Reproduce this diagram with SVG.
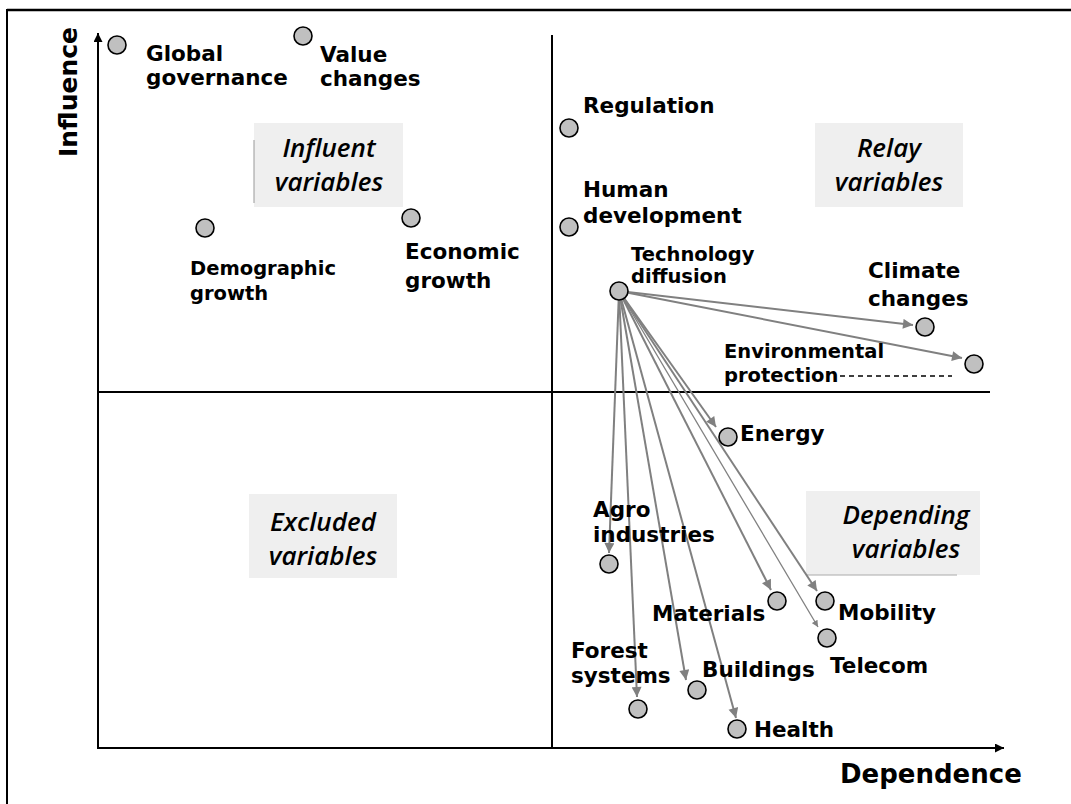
<svg xmlns="http://www.w3.org/2000/svg" width="1071" height="804" viewBox="0 0 1071 804">
<defs>
<marker id="ah" viewBox="0 0 10 10" refX="10" refY="5" markerWidth="6" markerHeight="5" orient="auto" markerUnits="strokeWidth">
<path d="M0,0 L10,5 L0,10 z" fill="#808080"/>
</marker>
<marker id="axh" viewBox="0 0 10 10" refX="10" refY="5" markerWidth="5" markerHeight="4.5" orient="auto" markerUnits="strokeWidth">
<path d="M0,0 L10,5 L0,10 z" fill="#000"/>
</marker>
</defs>
<style>
.n{fill:#c0c0c0;stroke:#000;stroke-width:1.6}
.t{font-family:"DejaVu Sans","Liberation Sans",sans-serif;font-weight:bold;font-size:21.5px;fill:#000}
.s{font-size:19.5px}
.q{font-family:"Open Sans","Liberation Sans",sans-serif;font-style:italic;font-weight:600;font-size:26px;fill:#000;text-anchor:middle}
.box{fill:#efefef}
.ax{stroke:#000;stroke-width:2;fill:none}
.c{stroke:#808080;stroke-width:2;fill:none;marker-end:url(#ah)}
</style>
<rect width="1071" height="804" fill="#fff"/>
<g id="frame">
<line x1="7" y1="10" x2="1071" y2="10" stroke="#000" stroke-width="2.5"/>
<line x1="7" y1="9" x2="7" y2="804" stroke="#000" stroke-width="2"/>
</g>
<g id="quadrants">
<rect class="box" x="254" y="123" width="149" height="84"/>
<line x1="254" y1="140" x2="254" y2="203" stroke="#999" stroke-width="1"/>
<text class="q" x="329" y="157">Influent</text>
<text class="q" x="329" y="191">variables</text>
<rect class="box" x="815" y="123" width="148" height="84"/>
<text class="q" x="889" y="157">Relay</text>
<text class="q" x="889" y="191">variables</text>
<rect class="box" x="249" y="494" width="148" height="84"/>
<text class="q" x="323" y="531">Excluded</text>
<text class="q" x="323" y="565">variables</text>
<rect class="box" x="806" y="491" width="174" height="84"/>
<line x1="806" y1="575" x2="957" y2="575" stroke="#aaa" stroke-width="1"/>
<text class="q" x="906" y="524">Depending</text>
<text class="q" x="906" y="558">variables</text>
</g>
<g id="axes">
<line class="ax" x1="98" y1="748" x2="98" y2="33" marker-end="url(#axh)"/>
<line class="ax" x1="97" y1="748" x2="1004" y2="748" marker-end="url(#axh)"/>
<line class="ax" x1="552" y1="35" x2="552" y2="749"/>
<line class="ax" x1="98" y1="392" x2="990" y2="392"/>
<text class="t" style="font-size:25px" transform="translate(77,92) rotate(-90)" text-anchor="middle">Influence</text>
<text class="t" style="font-size:26px" x="840" y="783">Dependence</text>
</g>
<g id="connectors">
<line class="c" x1="619" y1="291" x2="913" y2="325"/>
<line class="c" x1="619" y1="291" x2="962" y2="358"/>
<line class="c" x1="619" y1="291" x2="716" y2="427"/>
<line class="c" x1="619" y1="291" x2="609" y2="553"/>
<line class="c" x1="619" y1="291" x2="637" y2="697"/>
<line class="c" x1="619" y1="291" x2="686" y2="680"/>
<line class="c" x1="619" y1="291" x2="736" y2="718"/>
<line class="c" x1="619" y1="291" x2="771" y2="590"/>
<line class="c" x1="619" y1="291" x2="817" y2="591"/>
<line class="c" style="stroke-width:1.3" x1="619" y1="291" x2="818" y2="627"/>
</g>
<g id="global-governance"><circle class="n" cx="117" cy="45" r="9"/><text class="t" x="146" y="61">Global</text><text class="t" x="146" y="85">governance</text></g>
<g id="value-changes"><circle class="n" cx="303" cy="36" r="9"/><text class="t" x="320" y="62">Value</text><text class="t" x="320" y="86">changes</text></g>
<g id="regulation"><circle class="n" cx="569" cy="128" r="9"/><text class="t" x="583" y="113">Regulation</text></g>
<g id="human-development"><circle class="n" cx="569" cy="227" r="9"/><text class="t" x="583" y="197">Human</text><text class="t" x="583" y="223">development</text></g>
<g id="technology-diffusion"><circle class="n" cx="619" cy="291" r="9"/><text class="t s" x="631" y="261">Technology</text><text class="t s" x="631" y="283">diffusion</text></g>
<g id="demographic-growth"><circle class="n" cx="205" cy="228" r="9"/><text class="t s" x="190" y="275">Demographic</text><text class="t s" x="190" y="300">growth</text></g>
<g id="economic-growth"><circle class="n" cx="411" cy="218" r="9"/><text class="t" x="405" y="259">Economic</text><text class="t" x="405" y="288">growth</text></g>
<g id="climate-changes"><circle class="n" cx="925" cy="327" r="9"/><text class="t" x="868" y="278">Climate</text><text class="t" x="868" y="306">changes</text></g>
<g id="environmental-protection"><circle class="n" cx="974" cy="364" r="9"/><line x1="840" y1="376" x2="952" y2="376" stroke="#000" stroke-width="1.5" stroke-dasharray="5,4"/><text class="t s" x="724" y="358">Environmental</text><text class="t s" x="724" y="382">protection</text></g>
<g id="energy"><circle class="n" cx="728" cy="437" r="9"/><text class="t" x="740" y="441">Energy</text></g>
<g id="agro-industries"><circle class="n" cx="609" cy="564" r="9"/><text class="t" x="593" y="517">Agro</text><text class="t" x="593" y="542">industries</text></g>
<g id="materials"><circle class="n" cx="777" cy="601" r="9"/><text class="t" x="652" y="621">Materials</text></g>
<g id="mobility"><circle class="n" cx="825" cy="601" r="9"/><text class="t" x="838" y="620">Mobility</text></g>
<g id="telecom"><circle class="n" cx="827" cy="638" r="9"/><text class="t" x="830" y="673">Telecom</text></g>
<g id="forest-systems"><circle class="n" cx="638" cy="709" r="9"/><text class="t" x="571" y="658">Forest</text><text class="t" x="571" y="683">systems</text></g>
<g id="buildings"><circle class="n" cx="697" cy="690" r="9"/><text class="t" x="702" y="677">Buildings</text></g>
<g id="health"><circle class="n" cx="737" cy="729" r="9"/><text class="t" x="754" y="737">Health</text></g>
</svg>
